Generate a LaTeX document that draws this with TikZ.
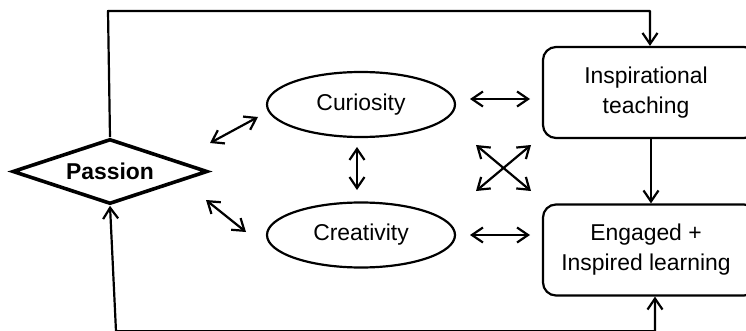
\documentclass[tikz,border=0pt]{standalone}
\usepackage{fontspec}
\setmainfont{Liberation Sans}
\usetikzlibrary{shapes.geometric,arrows.meta}
\begin{document}
\begin{tikzpicture}[x=1pt,y=-1pt,
  barb/.tip={Straight Barb[length=11pt,width=15pt,line width=2.2pt]},
  tip/.style={line width=2.2pt, line cap=round, line join=round, barb-barb},
  oneway/.style={line width=2.2pt, line join=round, -barb},
  txt/.style={font=\fontsize{22.9}{30}\selectfont, align=center},
  oval/.style={ellipse, draw, line width=2.2pt, minimum width=188pt, minimum height=65pt, inner sep=0pt, txt},
  roundbox/.style={rectangle, draw, line width=2.2pt, rounded corners=13pt, minimum width=214pt, minimum height=91pt, inner sep=0pt, txt},
  gem/.style={diamond, draw, line width=3.6pt, aspect=3, minimum width=195pt, minimum height=65pt, inner sep=0pt, txt, font=\fontsize{22.9}{30}\selectfont\bfseries}]
\useasboundingbox (0,0) rectangle (746,331);

% nodes
\node[gem] (passion) at (110,171.5) {Passion};
\node[oval] (cur) at (361,104.5) {Curiosity};
\node[oval] (cre) at (361,235) {Creativity};
\node[roundbox] (insp) at (650,92.5) {Inspirational\hspace*{8pt}\\teaching\hspace*{8pt}};
\node[roundbox] (eng) at (650,250) {Engaged +\hspace*{8pt}\\Inspired learning\hspace*{8pt}};

% free ends of the short two-way arrows
\coordinate (pc1) at (210,143);
\coordinate (pc2) at (258,117);
\coordinate (pr1) at (206,200);
\coordinate (pr2) at (246,232);
\coordinate (cc1) at (357,147);
\coordinate (cc2) at (357,190);
\coordinate (ci1) at (470,99);
\coordinate (ci2) at (530,99);
\coordinate (ce1) at (470,235);
\coordinate (ce2) at (530,235);
\coordinate (xa1) at (476,145);
\coordinate (xa2) at (531,191);
\coordinate (xb1) at (476,191);
\coordinate (xb2) at (531,145);

\draw[tip] (pc1) -- (pc2);
\draw[tip] (pr1) -- (pr2);
\draw[tip] (cc1) -- (cc2);
\draw[tip] (ci1) -- (ci2);
\draw[tip] (ce1) -- (ce2);
\draw[tip] (xa1) -- (xa2);
\draw[tip] (xb1) -- (xb2);

% feedback loops
\coordinate (topl) at (108,11);
\coordinate (topr) at (650,11);
\draw[oneway] (passion.north) -- (topl) -- (topr) -- (topr |- insp.north);
\draw[oneway] (651,0 |- insp.south) -- (651,0 |- eng.north);
\coordinate (botl) at (116,331.2);
\coordinate (botr) at (655,331.2);
\draw[tip, line cap=butt] (passion.south) -- (botl) -- (botr) -- (botr |- eng.south);
\end{tikzpicture}
\end{document}
